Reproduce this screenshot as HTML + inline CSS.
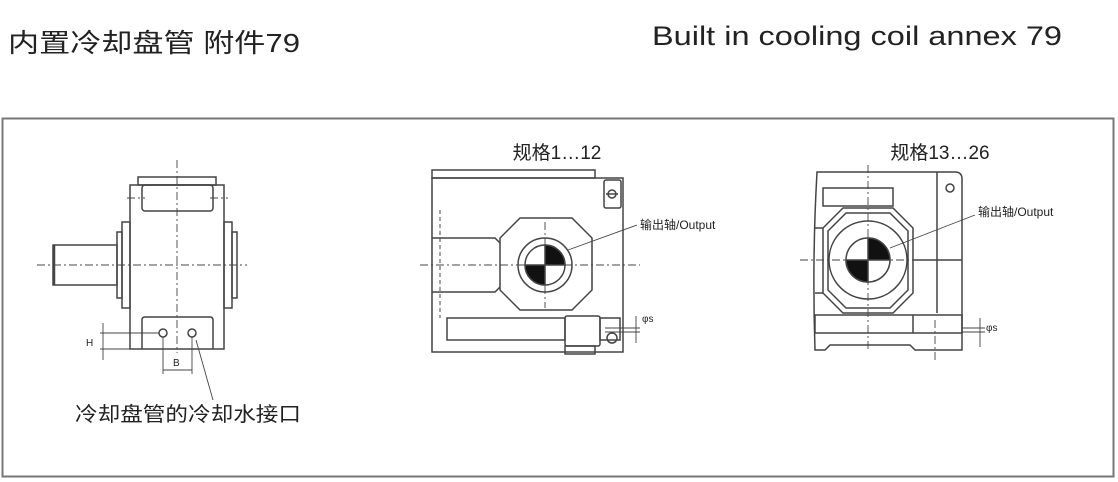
<!DOCTYPE html>
<html><head><meta charset="utf-8"><style>
html,body{margin:0;padding:0;background:#fff;width:1118px;height:482px;overflow:hidden}
svg{display:block}
text{font-family:"Liberation Sans","Noto Sans CJK SC",sans-serif;fill:#222}
</style></head><body>
<svg width="1118" height="482" viewBox="0 0 1118 482" xmlns="http://www.w3.org/2000/svg">
<text x="8" y="52" font-size="26" textLength="292" lengthAdjust="spacingAndGlyphs">内置冷却盘管 附件79</text>
<text x="652" y="45" font-size="27" textLength="410" lengthAdjust="spacingAndGlyphs">Built in cooling coil annex 79</text>
<rect x="2.5" y="118.5" width="1111" height="358" fill="none" stroke="#777" stroke-width="2"/>

<g fill="none" stroke="#444" stroke-width="1.5">
<!-- left drawing -->
<rect x="138" y="177" width="78" height="8"/>
<rect x="130" y="185" width="94" height="164"/>
<rect x="142" y="185" width="71" height="26" rx="3"/>
<rect x="53" y="245" width="64" height="40"/>
<line x1="54" y1="245" x2="54" y2="285" stroke-width="2.5"/>
<rect x="117" y="232" width="5" height="66"/>
<rect x="122" y="222" width="8" height="86"/>
<rect x="224" y="222" width="8" height="86"/>
<rect x="232" y="232" width="5" height="66"/>
<path d="M142 349 V320 Q142 317 145 317 H210 Q213 317 213 320 V349"/>
<circle cx="163" cy="333" r="4"/>
<circle cx="192" cy="333" r="4"/>
<g stroke-width="0.9">
<line x1="103" y1="323" x2="103" y2="360"/>
<line x1="100" y1="333" x2="159" y2="333"/>
<line x1="100" y1="349" x2="130" y2="349"/>
<line x1="163" y1="337" x2="163" y2="374"/>
<line x1="192" y1="337" x2="192" y2="374"/>
<line x1="163" y1="370" x2="192" y2="370"/>
<line x1="196" y1="340" x2="213" y2="400"/>
</g>
<g stroke-dasharray="8,3,2,3" stroke-width="0.9">
<line x1="177" y1="160" x2="177" y2="353"/>
<line x1="37" y1="265" x2="247" y2="265"/>
<line x1="127" y1="198" x2="145" y2="198"/>
<line x1="210" y1="198" x2="228" y2="198"/>
</g>

<!-- middle drawing -->
<rect x="432" y="170" width="163" height="8"/>
<rect x="432" y="178" width="191" height="174"/>
<rect x="604" y="180" width="17" height="28" rx="2"/>
<circle cx="612" cy="194" r="4"/>
<line x1="606" y1="194" x2="618" y2="194"/>
<polygon points="520,218 572,218 592,238 592,290 572,310 520,310 500,290 500,238"/>
<path d="M432 238 H495 L500 243 M432 292 H495 L500 287"/>
<circle cx="545" cy="265" r="27"/>
<circle cx="545" cy="265" r="20"/>
<path d="M545 265 V245 A20 20 0 0 1 565 265 Z M545 265 V285 A20 20 0 0 1 525 265 Z" fill="#111"/>
<rect x="447" y="318" width="118" height="22"/>
<rect x="565" y="316" width="35" height="30" rx="2"/>
<rect x="565" y="346" width="30" height="8"/>
<rect x="600" y="318" width="20" height="22"/>
<circle cx="612" cy="338" r="5"/>
<line x1="605" y1="328" x2="640" y2="328" stroke-width="0.9"/>
<line x1="605" y1="332" x2="640" y2="332" stroke-width="0.9"/>
<line x1="636" y1="316" x2="636" y2="343" stroke-width="0.9"/>
<line x1="568" y1="250" x2="637" y2="225" stroke-width="0.9"/>
<g stroke-dasharray="4,3" stroke-width="1">
<line x1="440" y1="210" x2="440" y2="318"/>
</g>
<g stroke-dasharray="8,3,2,3" stroke-width="0.9">
<line x1="420" y1="265" x2="640" y2="265"/>
<line x1="545" y1="222" x2="545" y2="308"/>
</g>

<!-- right drawing -->
<path d="M817 172 H955 Q962 172 962 179 V350 H915 L910 345 H830 L825 350 H815 Q812 260 817 172 Z"/>
<rect x="823" y="188" width="70" height="18"/>
<polygon points="843,208 893,208 913,228 913,293 893,313 843,313 823,293 823,228"/>
<polygon points="846,213 890,213 908,231 908,290 890,308 846,308 828,290 828,231"/>
<circle cx="868" cy="260" r="39"/>
<circle cx="868" cy="260" r="22"/>
<path d="M868 260 V238 A22 22 0 0 1 890 260 Z M868 260 V282 A22 22 0 0 1 846 260 Z" fill="#111"/>
<line x1="937" y1="172" x2="937" y2="313"/>
<path d="M913 260 H962 M815 228 H823 M815 293 H823"/>
<rect x="815" y="315" width="147" height="18"/>
<line x1="913" y1="315" x2="913" y2="333"/>
<circle cx="950" cy="188" r="4"/>
<line x1="962" y1="328" x2="985" y2="328" stroke-width="0.9"/>
<line x1="962" y1="332" x2="985" y2="332" stroke-width="0.9"/>
<line x1="980" y1="318" x2="980" y2="347" stroke-width="0.9"/>
<line x1="890" y1="248" x2="975" y2="215" stroke-width="0.9"/>
<g stroke-dasharray="8,3,2,3" stroke-width="0.9">
<line x1="868" y1="165" x2="868" y2="350"/>
<line x1="800" y1="260" x2="913" y2="260"/>
<line x1="935" y1="320" x2="935" y2="360"/>
</g>
</g>

<text x="86" y="346" font-size="10">H</text>
<text x="173" y="366" font-size="10">B</text>
<text x="75" y="421" font-size="20" textLength="226" lengthAdjust="spacingAndGlyphs">冷却盘管的冷却水接口</text>
<text x="557" y="159" font-size="19" text-anchor="middle">规格1…12</text>
<text x="940" y="159" font-size="19" text-anchor="middle">规格13…26</text>
<text x="640" y="229" font-size="12">输出轴/Output</text>
<text x="978" y="216" font-size="12">输出轴/Output</text>
<text x="642" y="322" font-size="10">φs</text>
<text x="986" y="331" font-size="10">φs</text>
</svg>
</body></html>
